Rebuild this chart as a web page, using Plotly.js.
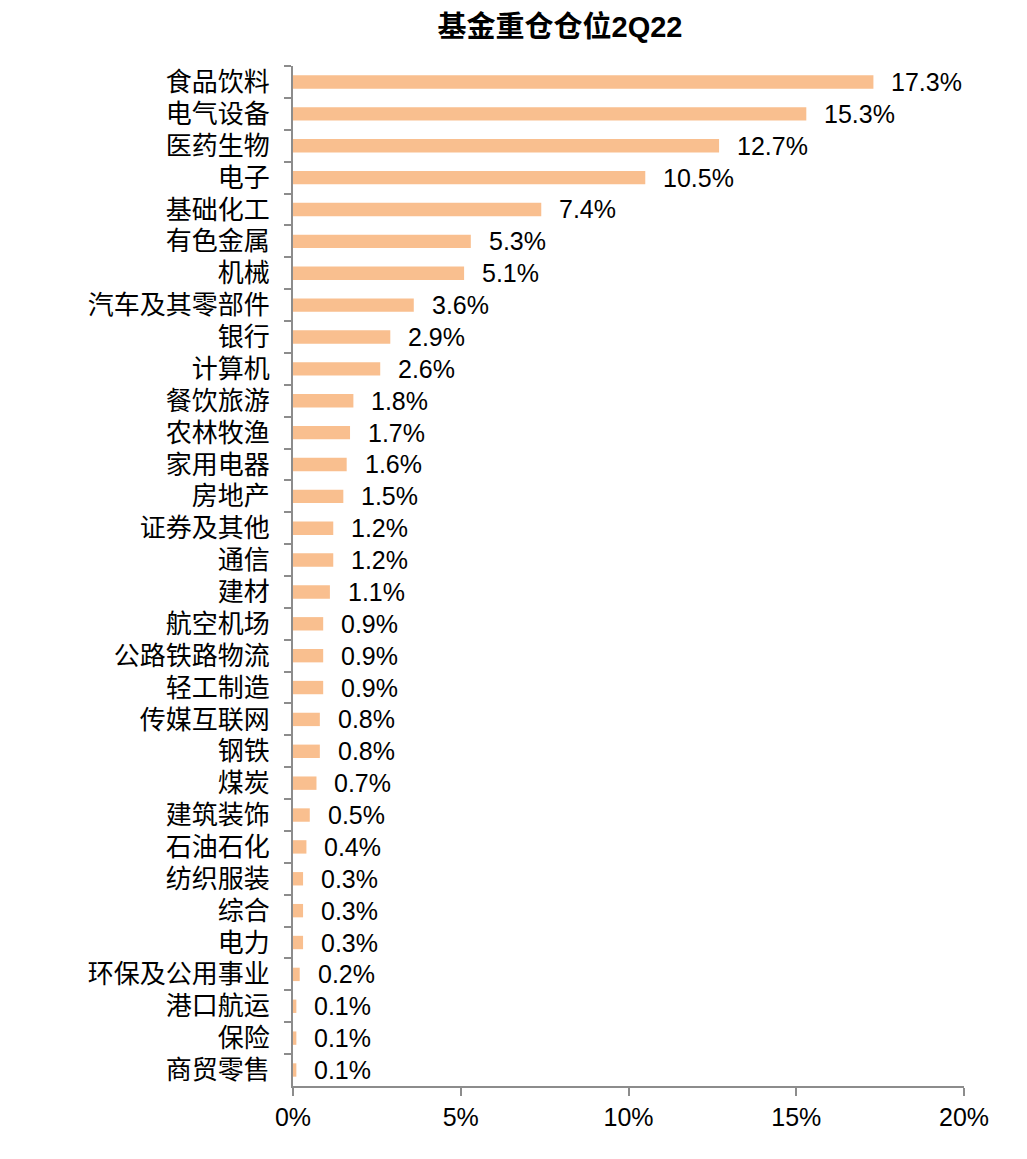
<!DOCTYPE html>
<html>
<head>
<meta charset="utf-8">
<script src="https://cdn.plot.ly/plotly-3.0.1.min.js"></script>
<style>html,body{margin:0;padding:0;background:#fff;}#chart{width:1027px;height:1159px;}</style>
</head>
<body>
<div id="chart"></div>
<script>
const categories = ["食品饮料","电气设备","医药生物","电子","基础化工","有色金属","机械","汽车及其零部件","银行","计算机","餐饮旅游","农林牧渔","家用电器","房地产","证券及其他","通信","建材","航空机场","公路铁路物流","轻工制造","传媒互联网","钢铁","煤炭","建筑装饰","石油石化","纺织服装","综合","电力","环保及公用事业","港口航运","保险","商贸零售"];
const values = [17.3,15.3,12.7,10.5,7.4,5.3,5.1,3.6,2.9,2.6,1.8,1.7,1.6,1.5,1.2,1.2,1.1,0.9,0.9,0.9,0.8,0.8,0.7,0.5,0.4,0.3,0.3,0.3,0.2,0.1,0.1,0.1];
const xTickVals = [0,5,10,15,20];
const xTickText = ["0%","5%","10%","15%","20%"];
const titleText = "基金重仓仓位2Q22";

const FONT = "Liberation Sans, Arial, Noto Sans CJK SC, sans-serif";

const trace = {
  type: "bar",
  orientation: "h",
  x: values,
  y: categories,
  width: 0.42,
  marker: {color: "#F9BF8F", line: {width: 0}},
  hoverinfo: "skip"
};

const annotations = values.map((v, i) => ({
  x: v, y: categories[i], xref: "x", yref: "y",
  text: v.toFixed(1) + "%",
  showarrow: false, xanchor: "left", yanchor: "middle",
  xshift: 16,
  font: {family: FONT, size: 25, color: "#000"}
}));

const layout = {
  width: 1027, height: 1159,
  margin: {l: 293, r: 63, t: 66, b: 73},
  paper_bgcolor: "#fff", plot_bgcolor: "#fff",
  showlegend: false,
  title: {text: "<b>" + titleText + "</b>", x: 560/1027, xanchor: "center", xref: "container",
          y: 1 - 27/1159, yref: "container", yanchor: "middle",
          font: {family: FONT, size: 29, color: "#000"}},
  xaxis: {
    range: [0, 20], tickvals: xTickVals, ticktext: xTickText,
    showgrid: false, zeroline: false,
    showline: true, linecolor: "#8c8c8c", linewidth: 2,
    ticks: "outside", ticklen: 8, tickwidth: 2, tickcolor: "#8c8c8c",
    tickfont: {family: FONT, size: 25, color: "#000"},
    fixedrange: true
  },
  yaxis: {
    type: "category", autorange: "reversed",
    showgrid: false, zeroline: false,
    showline: true, linecolor: "#8c8c8c", linewidth: 2,
    ticks: "outside", tickson: "boundaries", ticklen: 7, tickwidth: 2, tickcolor: "#8c8c8c",
    ticklabelstandoff: 16,
    tickfont: {family: FONT, size: 26, color: "#000"},
    fixedrange: true
  },
  annotations: annotations,
  bargap: 0.58
};

Plotly.newPlot("chart", [trace], layout, {displayModeBar: false, staticPlot: true});
</script>
</body>
</html>
